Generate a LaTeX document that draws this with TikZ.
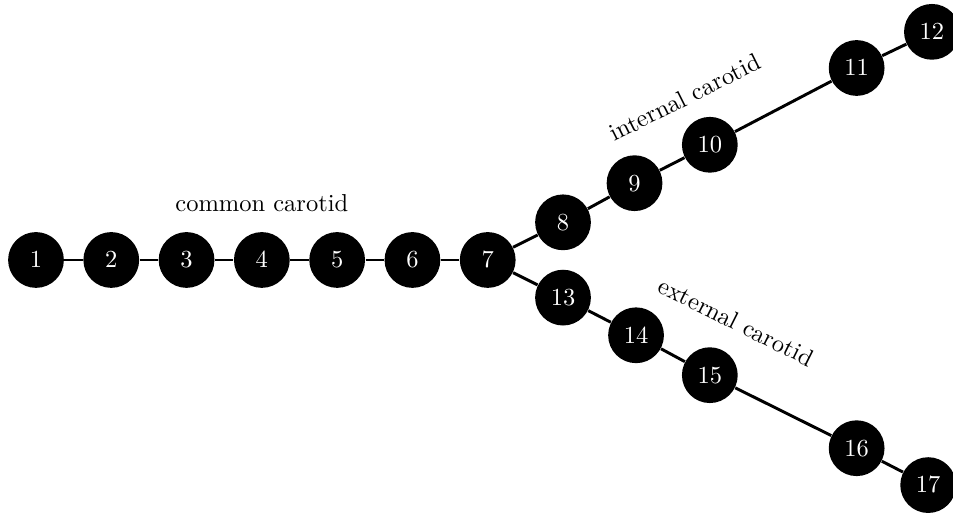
\documentclass[tikz,border=0pt]{standalone}
\usepackage{tikz}
\usepackage{amssymb}
\usepackage{amsmath}

\begin{document}
\begin{tikzpicture}[x=1.08cm, y=1.08cm,
		seg/.style={circle, fill=black, text=white, minimum size=0.8cm, inner sep=0pt},
		link/.style={very thick}]
			\useasboundingbox (-0.478,-3.40) rectangle (12.18,3.453);
			% common carotid
			\foreach \i in {1,...,7}
			\node[seg] (n\i) at (\i-1,0) {$\i$};
			% internal branch
			\foreach \i/\x/\y in {8/7/0.5, 9/7.95/1.02, 10/8.95/1.53, 11/10.9/2.55, 12/11.9/3.03}
			\node[seg] (n\i) at (\x,\y) {$\i$};
			% external branch
			\foreach \i/\x/\y in {13/7/-0.5, 14/7.97/-1, 15/8.95/-1.53, 16/10.9/-2.5, 17/11.85/-2.99}
			\node[seg] (n\i) at (\x,\y) {$\i$};
			\foreach \a/\b in {1/2,2/3,3/4,4/5,5/6,6/7,7/8,8/9,9/10,10/11,11/12,7/13,13/14,14/15,15/16,16/17}
			\draw[link] (n\a) -- (n\b);
			\node (common) at (3,0.76) {common carotid};
			\node[rotate=26.57] (internal) at (8.62,2.16) {internal carotid};
			\node[rotate=-26.57] (external) at (9.30,-0.82) {external carotid};
		\end{tikzpicture}
\end{document}
